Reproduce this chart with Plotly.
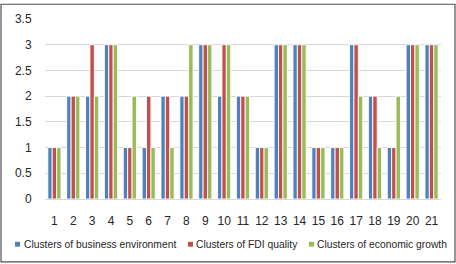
import plotly.graph_objects as go

categories = [str(i) for i in range(1, 22)]
business_env = [1, 2, 2, 3, 1, 1, 2, 2, 3, 2, 2, 1, 3, 3, 1, 1, 3, 2, 1, 3, 3]
fdi_quality = [1, 2, 3, 3, 1, 2, 2, 2, 3, 3, 2, 1, 3, 3, 1, 1, 3, 2, 1, 3, 3]
econ_growth = [1, 2, 2, 3, 2, 1, 1, 3, 3, 3, 2, 1, 3, 3, 1, 1, 2, 1, 2, 3, 3]
series_names = ["Clusters of business environment", "Clusters of FDI quality",
                "Clusters of economic growth"]
y_ticks = [0, 0.5, 1, 1.5, 2, 2.5, 3, 3.5]
y_tick_labels = ["0", "0.5", "1", "1.5", "2", "2.5", "3", "3.5"]

colors = ["#4F81BD", "#C0504D", "#9BBB59"]

W, H = 456, 264
L, R, T, B = 45, 15, 16, 65
PW, PH = W - L - R, H - T - B

def px(x):
    return (x - L) / PW

def py(y):
    return (H - B - y) / PH

fig = go.Figure()
for name, vals, c in zip(series_names, [business_env, fdi_quality, econ_growth], colors):
    fig.add_trace(go.Bar(x=categories, y=vals, name=name,
                         marker=dict(color=c, line=dict(color="white", width=0.9))))

font = "Liberation Sans, Arial, sans-serif"
fig.update_layout(
    width=W, height=H,
    margin=dict(l=L, r=R, t=T, b=B),
    paper_bgcolor="white", plot_bgcolor="white",
    barmode="group", bargap=0.3, bargroupgap=0,
    showlegend=False,
    font=dict(family=font, size=12, color="#262626"),
)
fig.update_xaxes(type="category", showgrid=False, showline=False, zeroline=False,
                 ticks="outside", ticklen=11, tickcolor="rgba(0,0,0,0)",
                 tickfont=dict(size=12))
fig.update_yaxes(range=[0, 3.5], tickvals=y_ticks, ticktext=y_tick_labels,
                 showgrid=True, gridcolor="#D9D9D9", gridwidth=1,
                 zeroline=True, zerolinecolor="#D9D9D9", zerolinewidth=1,
                 showline=False, ticks="outside", ticklen=10,
                 tickcolor="rgba(0,0,0,0)", tickfont=dict(size=12))

# custom legend
leg_y = 245
sq = [15, 188, 309]
tx = [22, 194, 315]
for name, c, s, t in zip(series_names, colors, sq, tx):
    fig.add_shape(type="rect", xref="paper", yref="paper",
                  x0=px(s), x1=px(s + 5), y0=py(leg_y + 2.5), y1=py(leg_y - 2.5),
                  fillcolor=c, line=dict(width=0))
    fig.add_annotation(text=name, xref="paper", yref="paper", x=px(t), y=py(leg_y),
                       xanchor="left", yanchor="middle", showarrow=False,
                       font=dict(size=10.3, family=font, color="#262626"))

# chart border
fig.add_shape(type="rect", xref="paper", yref="paper", layer="above",
              x0=px(1), x1=px(455), y0=py(263), y1=py(1),
              line=dict(color="#505050", width=1.2), fillcolor="rgba(0,0,0,0)")

fig.write_html("out.html", config={"displayModeBar": False},
               post_script="document.body.style.margin='0';document.body.style.overflow='hidden';")
